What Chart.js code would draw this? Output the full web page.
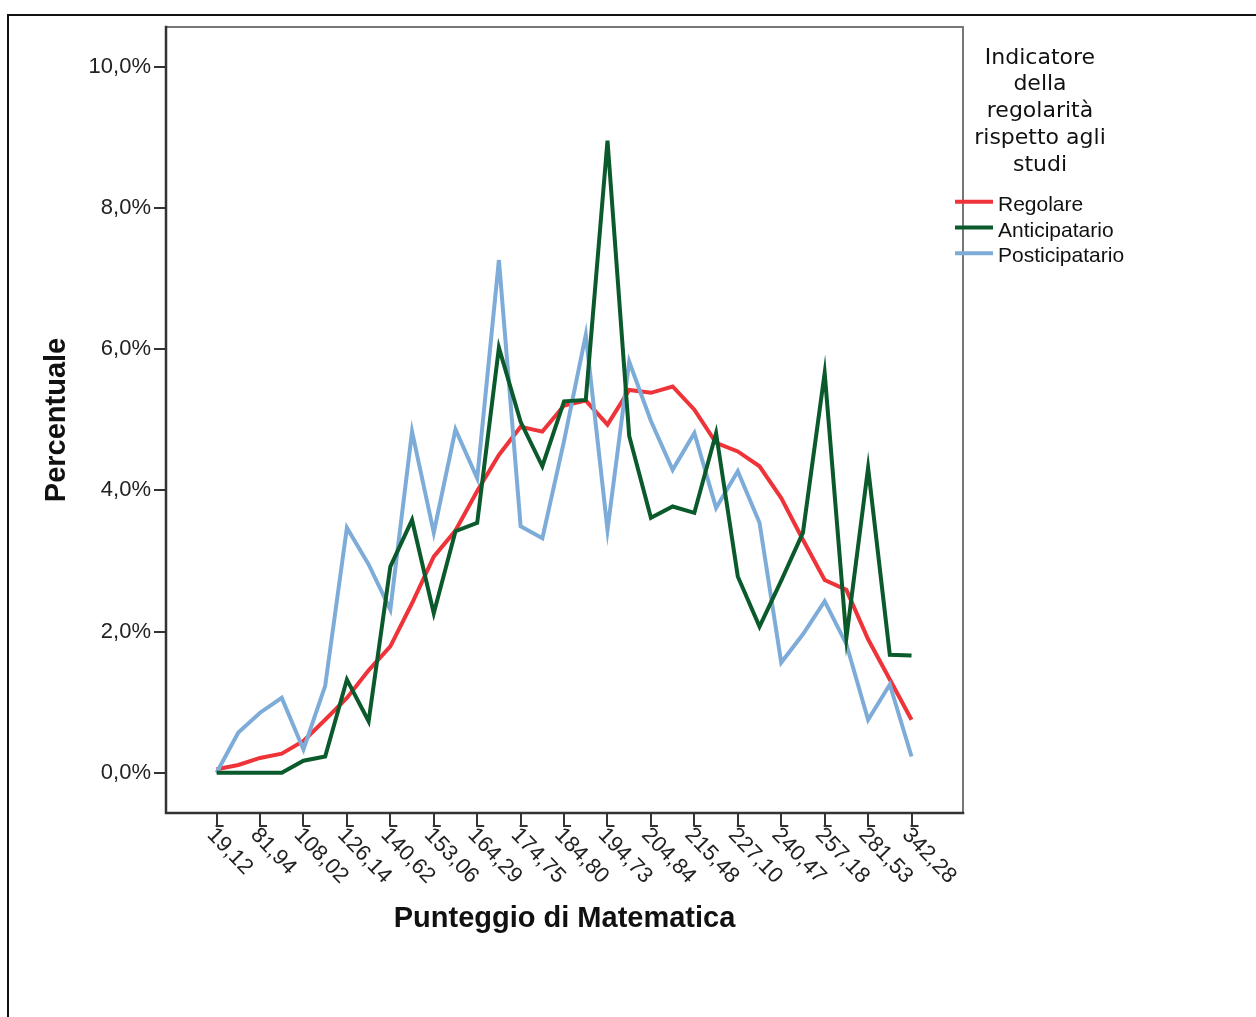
<!DOCTYPE html>
<html lang="it">
<head>
<meta charset="utf-8">
<title>Punteggio di Matematica</title>
<script src="https://cdn.jsdelivr.net/npm/chart.js@4"></script>
<style>
  html, body { margin: 0; padding: 0; background: #fff; }
  #wrap { position: relative; width: 1256px; height: 1017px; overflow: hidden; }
  #frame { position: absolute; left: 7px; top: 14px; right: -10px; bottom: -10px;
           border-left: 2px solid #111; border-top: 2px solid #111; }
  #chart { position: absolute; left: 0; top: 0; }
</style>
</head>
<body>
<div id="wrap">
  <div id="frame"></div>
  <canvas id="chart" width="1256" height="1017"></canvas>
</div>
<script>
// etichette dell'asse X (una ogni due punti)
const xLabels = ['19,12', '81,94', '108,02', '126,14', '140,62', '153,06', '164,29', '174,75',
  '184,80', '194,73', '204,84', '215,48', '227,10', '240,47', '257,18', '281,53', '342,28'];

// percentuali, 33 punti per serie
const regolare = [0.05, 0.11, 0.21, 0.27, 0.45, 0.75, 1.06, 1.45, 1.79, 2.40, 3.06, 3.43, 3.99,
  4.50, 4.90, 4.83, 5.20, 5.27, 4.93, 5.42, 5.38, 5.47, 5.14, 4.67, 4.55, 4.34, 3.89, 3.30,
  2.73, 2.59, 1.89, 1.32, 0.75];
const anticipatario = [0, 0, 0, 0, 0.17, 0.23, 1.32, 0.73, 2.92, 3.58, 2.26, 3.42, 3.54,
  6.02, 4.97, 4.34, 5.26, 5.28, 8.95, 4.77, 3.61, 3.77, 3.68, 4.81, 2.78, 2.07, 2.72, 3.40,
  5.66, 1.91, 4.32, 1.67, 1.66];
const posticipatario = [0, 0.57, 0.85, 1.06, 0.33, 1.23, 3.47, 2.95, 2.31, 4.83, 3.40, 4.86,
  4.17, 7.26, 3.49, 3.32, 4.70, 6.20, 3.44, 5.82, 4.98, 4.29, 4.81, 3.75, 4.27, 3.54, 1.56,
  1.96, 2.43, 1.82, 0.75, 1.25, 0.23];

const yTicks = [0, 2, 4, 6, 8, 10];
const legendTitle = ['Indicatore', 'della', 'regolarità', 'rispetto agli', 'studi'];

const FONT = '"Liberation Sans", Arial, sans-serif';

function toPoints(arr) {
  return arr.map(function(v, i) { return { x: i, y: v }; });
}

// cornice, etichette X ruotate e legenda
const decor = {
  id: 'decor',
  afterDraw: function(chart) {
    const ctx = chart.ctx;
    const a = chart.chartArea;
    const xs = chart.scales.x;
    ctx.save();

    // cornice dell'area del grafico
    ctx.lineCap = 'square';
    ctx.strokeStyle = '#777';
    ctx.lineWidth = 2;
    ctx.beginPath();
    ctx.moveTo(a.left, a.top);
    ctx.lineTo(a.right, a.top);
    ctx.lineTo(a.right, a.bottom);
    ctx.stroke();
    ctx.strokeStyle = '#333';
    ctx.lineWidth = 2.5;
    ctx.beginPath();
    ctx.moveTo(a.left, a.top);
    ctx.lineTo(a.left, a.bottom);
    ctx.lineTo(a.right, a.bottom);
    ctx.stroke();

    // etichette X
    ctx.fillStyle = '#222';
    ctx.font = '22px ' + FONT;
    ctx.textAlign = 'left';
    ctx.textBaseline = 'top';
    xLabels.forEach(function(lab, k) {
      const px = xs.getPixelForValue(2 * k);
      ctx.strokeStyle = '#333';
      ctx.lineWidth = 2;
      ctx.beginPath();
      ctx.moveTo(px, a.bottom + 13);
      ctx.lineTo(px + 6, a.bottom + 13);
      ctx.stroke();
      ctx.save();
      ctx.translate(px + 2, a.bottom + 11);
      ctx.rotate(46 * Math.PI / 180);
      ctx.fillText(lab, 0, 0);
      ctx.restore();
    });

    // legenda
    ctx.fillStyle = '#111';
    ctx.textAlign = 'center';
    ctx.textBaseline = 'alphabetic';
    ctx.font = '22px "DejaVu Sans", sans-serif';
    legendTitle.forEach(function(t, i) {
      ctx.fillText(t, 1040, 63.5 + i * 26.8);
    });
    ctx.textAlign = 'left';
    ctx.font = '21px ' + FONT;
    const order = [0, 1, 2];
    order.forEach(function(di, i) {
      const ds = chart.data.datasets[di];
      const yy = 201.7 + i * 25.8;
      ctx.strokeStyle = ds.borderColor;
      ctx.lineWidth = 4;
      ctx.lineCap = 'butt';
      ctx.beginPath();
      ctx.moveTo(955, yy);
      ctx.lineTo(993, yy);
      ctx.stroke();
      ctx.fillStyle = '#111';
      ctx.fillText(ds.label, 998, yy + 9);
    });

    ctx.restore();
  }
};

new Chart(document.getElementById('chart'), {
  type: 'line',
  data: {
    datasets: [
      { label: 'Regolare', data: toPoints(regolare), borderColor: '#ee3339', order: 2 },
      { label: 'Anticipatario', data: toPoints(anticipatario), borderColor: '#0b5a2c', order: 0 },
      { label: 'Posticipatario', data: toPoints(posticipatario), borderColor: '#7eacd9', order: 1 }
    ]
  },
  options: {
    responsive: false,
    animation: false,
    devicePixelRatio: 1,
    layout: { padding: { left: 36, top: 27, right: 293, bottom: 77 } },
    elements: {
      line: { borderWidth: 4, tension: 0, borderJoinStyle: 'miter', fill: false },
      point: { radius: 0 }
    },
    plugins: { legend: { display: false }, tooltip: { enabled: false } },
    scales: {
      x: {
        type: 'linear',
        min: -2.33,
        max: 34.37,
        afterBuildTicks: function(scale) {
          scale.ticks = xLabels.map(function(_, k) { return { value: 2 * k }; });
        },
        afterFit: function(scale) { scale.height = 127; },
        border: { display: false },
        grid: { drawOnChartArea: false, drawTicks: true, tickLength: 13, tickColor: '#333', lineWidth: 2 },
        ticks: { display: false },
        title: {
          display: true,
          text: 'Punteggio di Matematica',
          color: '#111',
          font: { family: FONT, size: 29, weight: 'bold' },
          padding: { top: 4, bottom: 4 }
        }
      },
      y: {
        type: 'linear',
        min: -0.57,
        max: 10.56,
        afterBuildTicks: function(scale) {
          scale.ticks = yTicks.map(function(v) { return { value: v }; });
        },
        afterFit: function(scale) { scale.width = 130; },
        border: { display: false },
        grid: { drawOnChartArea: false, drawTicks: true, tickLength: 12, tickColor: '#333', lineWidth: 2 },
        ticks: {
          color: '#222',
          padding: 3,
          font: { family: FONT, size: 22 },
          callback: function(v) { return v.toFixed(1).replace('.', ',') + '%'; }
        },
        title: {
          display: true,
          text: 'Percentuale',
          color: '#111',
          font: { family: FONT, size: 29, weight: 'bold' },
          padding: { top: 4, bottom: 4 }
        }
      }
    }
  },
  plugins: [decor]
});
</script>
</body>
</html>
